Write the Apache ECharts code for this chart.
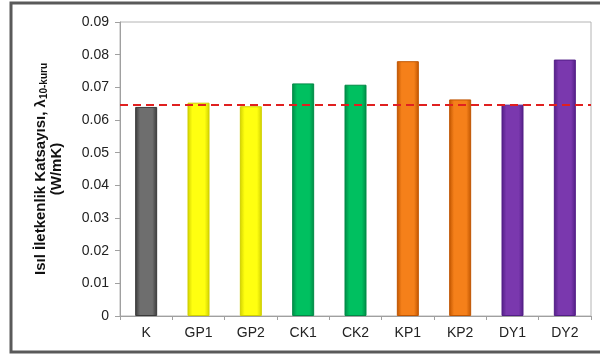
<!DOCTYPE html>
<html>
<head>
<meta charset="utf-8">
<script src="https://cdn.jsdelivr.net/npm/echarts@6/dist/echarts.min.js"></script>
<style>
  html, body { margin: 0; padding: 0; background: #fff; }
  #chart { width: 600px; height: 356px; }
</style>
</head>
<body>
<div id="chart"></div>
<script>
// Thermal conductivity of each sample group
const categories = ['K', 'GP1', 'GP2', 'CK1', 'CK2', 'KP1', 'KP2', 'DY1', 'DY2'];
const conductivity = [0.0640, 0.0653, 0.0642, 0.0712, 0.0708, 0.0780, 0.0663, 0.0647, 0.0785];
const referenceValue = 0.0646;
const yTicks = { min: 0, max: 0.09, interval: 0.01 };

// Group colours: [edge, centre]
const palette = {
  K:  ['#3a3a3a', '#6e6e6e'],
  GP: ['#d0d000', '#ffff10'],
  CK: ['#008a46', '#00c060'],
  KP: ['#c05500', '#f5801a'],
  DY: ['#521e86', '#7a38ae']
};

function groupOf(name) {
  return name.replace(/[0-9]/g, '');
}

function barStyle(name) {
  const c = palette[groupOf(name)];
  return {
    color: {
      type: 'linear', x: 0, y: 0, x2: 1, y2: 0,
      colorStops: [
        { offset: 0, color: c[0] },
        { offset: 0.22, color: c[1] },
        { offset: 0.78, color: c[1] },
        { offset: 1, color: c[0] }
      ]
    },
    borderColor: c[0],
    borderWidth: 1
  };
}

const chart = echarts.init(document.getElementById('chart'), null, { renderer: 'canvas' });

chart.setOption({
  animation: false,
  backgroundColor: '#fff',
  graphic: [{
    type: 'rect',
    silent: true,
    shape: { x: 11, y: 3, width: 620, height: 349 },
    style: { fill: 'none', stroke: '#5a5a5a', lineWidth: 3 }
  }],
  grid: {
    left: 120, right: 9, top: 22, bottom: 40,
    show: true, borderColor: '#b4b4b4', borderWidth: 1
  },
  xAxis: {
    type: 'category',
    data: categories,
    axisLine: { lineStyle: { color: '#a0a0a0' } },
    axisTick: { show: true, length: 4, lineStyle: { color: '#a0a0a0' } },
    axisLabel: { color: '#222', fontFamily: 'Liberation Sans, Arial', fontSize: 14, margin: 10 }
  },
  yAxis: {
    type: 'value',
    min: yTicks.min, max: yTicks.max, interval: yTicks.interval,
    axisLine: { show: true, lineStyle: { color: '#a0a0a0' } },
    axisTick: { show: true, length: 5, lineStyle: { color: '#a0a0a0' } },
    splitLine: { show: false },
    axisLabel: {
      color: '#222', fontFamily: 'Liberation Sans, Arial', fontSize: 14, margin: 11,
      formatter: v => (v === 0 ? '0' : v.toFixed(2))
    },
    name: 'Isıl İletkenlik Katsayısı, λ{sub|10-kuru}\n(W/mK)',
    nameLocation: 'middle',
    nameRotate: 90,
    nameGap: 55,
    nameTextStyle: {
      color: '#111', fontFamily: 'Liberation Sans, Arial', fontSize: 15,
      fontWeight: 'bold', lineHeight: 16, align: 'center',
      rich: {
        sub: {
          fontFamily: 'Liberation Sans, Arial', fontSize: 10, fontWeight: 'bold',
          color: '#111', verticalAlign: 'bottom', padding: [6, 0, 0, 0]
        }
      }
    }
  },
  series: [{
    type: 'bar',
    barWidth: 22,
    data: categories.map((name, i) => ({ value: conductivity[i], itemStyle: barStyle(name) })),
    markLine: {
      silent: true,
      symbol: 'none',
      precision: 4,
      label: { show: false },
      lineStyle: { color: '#e02020', type: [8, 5], width: 2 },
      data: [{ yAxis: referenceValue }]
    }
  }]
});
</script>
</body>
</html>
